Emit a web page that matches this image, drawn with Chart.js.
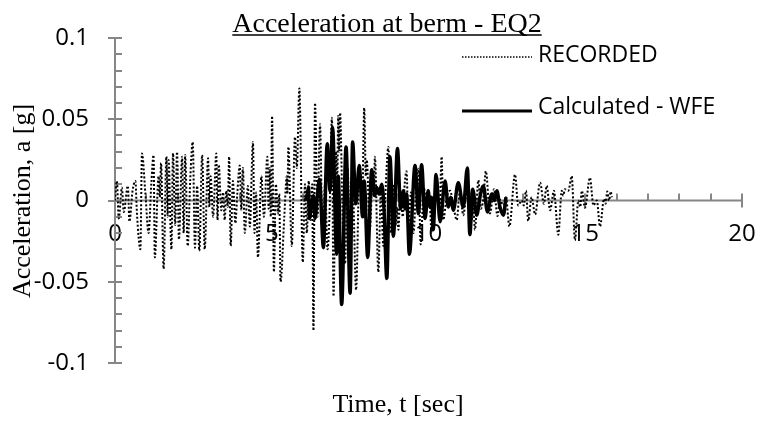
<!DOCTYPE html>
<html>
<head>
<meta charset="utf-8">
<script src="https://cdn.jsdelivr.net/npm/chart.js@4.4.0/dist/chart.umd.min.js"></script>
<style>
  html, body { margin: 0; padding: 0; background: #fff; }
  #c { display: block; }
</style>
</head>
<body>
<canvas id="c" width="759" height="421"></canvas>
<script>
// values (peaks of each trace)
const recT = [0.00, 0.06, 0.12, 0.22, 0.28, 0.41, 0.46, 0.56, 0.65, 0.70, 0.81, 0.86, 0.97, 1.07, 1.16, 1.23, 1.27, 1.39, 1.43, 1.47,
  1.55, 1.64, 1.68, 1.71, 1.80, 1.85, 1.92, 1.98, 2.04, 2.14, 2.19, 2.24, 2.32, 2.40, 2.48, 2.55, 2.62, 2.69, 2.78, 2.86,
  2.97, 3.01, 3.05, 3.13, 3.23, 3.27, 3.31, 3.39, 3.45, 3.50, 3.55, 3.60, 3.64, 3.69, 3.76, 3.84, 3.90, 3.98, 4.03, 4.08,
  4.14, 4.24, 4.30, 4.40, 4.45, 4.50, 4.56, 4.67, 4.75, 4.86, 4.90, 4.93, 4.97, 5.01, 5.07, 5.13, 5.20, 5.24, 5.28, 5.40,
  5.48, 5.50, 5.53, 5.64, 5.74, 5.80, 5.88, 5.99, 6.06, 6.12, 6.18, 6.24, 6.29, 6.33, 6.38, 6.46, 6.54, 6.62, 6.70, 6.78,
  6.84, 6.92, 6.97, 7.05, 7.09, 7.12, 7.15, 7.18, 7.26, 7.34, 7.42, 7.50, 7.58, 7.69, 7.80, 7.88, 7.95, 8.00, 8.03, 8.13,
  8.21, 8.25, 8.29, 8.40, 8.48, 8.56, 8.64, 8.72, 8.80, 8.88, 8.96, 9.00, 9.04, 9.10, 9.18, 9.24, 9.30, 9.36, 9.44, 9.52,
  9.60, 9.68, 9.75, 9.85, 9.94, 10.02, 10.10, 10.18, 10.26, 10.35, 10.42, 10.47, 10.58, 10.69, 10.80, 10.90, 11.00, 11.11, 11.20, 11.27,
  11.38, 11.43, 11.48, 11.59, 11.67, 11.75, 11.83, 11.96, 12.09, 12.20, 12.28, 12.39, 12.47, 12.58, 12.76, 12.86, 12.97, 13.04, 13.11, 13.18,
  13.29, 13.40, 13.56, 13.68, 13.77, 13.88, 14.00, 14.14, 14.25, 14.30, 14.35, 14.46, 14.57, 14.67, 14.78, 14.84, 14.89, 14.99, 15.15, 15.26,
  15.37, 15.47, 15.60, 15.65, 15.70, 15.76, 15.81, 15.85];
const recA = [0.000, 0.012, -0.011, 0.008, -0.007, 0.009, -0.013, 0.006, 0.012, -0.008, -0.030, 0.029, 0.004, -0.020, 0.011, 0.028, -0.035, 0.015, 0.002, 0.023,
  -0.042, 0.027, -0.010, 0.025, -0.030, 0.029, -0.015, 0.030, -0.024, 0.027, -0.020, 0.028, -0.028, 0.013, 0.036, -0.029, 0.009, -0.031, 0.028, -0.030,
  0.026, -0.004, 0.015, -0.010, 0.029, -0.012, 0.022, -0.006, 0.005, -0.012, 0.006, -0.004, 0.027, -0.028, 0.012, -0.014, 0.004, 0.0215, -0.006, 0.020,
  -0.020, 0.009, -0.016, 0.036, -0.020, 0.005, -0.035, 0.015, -0.010, 0.027, -0.005, 0.020, -0.010, 0.052, -0.044, 0.010, -0.008, 0.004, -0.050, -0.010,
  0.015, 0.004, 0.033, -0.028, 0.039, 0.020, 0.069, -0.038, 0.010, -0.020, 0.012, -0.012, 0.010, -0.080, 0.060, -0.010, 0.047, -0.025, 0.010, -0.030,
  -0.010, 0.051, -0.059, 0.030, 0.010, 0.052, 0.030, 0.054, -0.010, -0.039, 0.020, -0.030, 0.010, -0.055, 0.020, -0.010, 0.057, 0.015, 0.025, -0.018,
  0.010, 0.002, 0.027, -0.044, 0.005, -0.028, 0.010, 0.033, -0.020, 0.010, -0.015, -0.004, -0.018, 0.005, -0.010, 0.010, 0.018, -0.018, 0.005, -0.020,
  0.006, 0.0195, -0.027, 0.008, -0.005, 0.004, -0.020, 0.000, 0.005, -0.006, 0.027, -0.012, 0.002, 0.006, -0.004, -0.012, 0.0055, -0.009, 0.003, 0.010,
  -0.012, -0.002, -0.018, 0.0125, -0.005, 0.001, 0.018, -0.008, 0.007, -0.0095, 0.0005, -0.003, 0.002, -0.016, 0.016, -0.003, 0.000, -0.003, 0.006, -0.0125,
  0.002, -0.0086, 0.011, -0.002, 0.009, -0.006, 0.006, -0.021, 0.006, 0.003, 0.007, 0.006, 0.015, -0.0245, 0.000, -0.004, 0.006, -0.0045, 0.014, -0.003,
  0.000, -0.016, 0.001, -0.002, 0.0055, 0.000, 0.0055, 0.002];

const calT = [6.06, 6.13, 6.17, 6.20, 6.27, 6.33, 6.38, 6.45, 6.52, 6.65, 6.77, 6.86, 6.94, 7.07, 7.12, 7.23, 7.37, 7.50, 7.58, 7.68,
  7.79, 7.90, 7.95, 8.06, 8.19, 8.29, 8.35, 8.42, 8.51, 8.58, 8.67, 8.77, 8.88, 9.01, 9.11, 9.20, 9.25, 9.30, 9.39, 9.57,
  9.68, 9.78, 9.89, 9.99, 10.05, 10.10, 10.15, 10.24, 10.37, 10.53, 10.63, 10.71, 10.79, 10.95, 11.11, 11.24, 11.32, 11.41, 11.54, 11.64,
  11.75, 11.88, 12.02, 12.10, 12.18, 12.28, 12.39, 12.47];
const calA = [0.000, 0.003, 0.008, -0.011, -0.002, 0.003, -0.011, 0.002, 0.013, -0.029, 0.035, 0.006, 0.045, -0.033, 0.015, -0.064, 0.033, -0.057, 0.036, -0.002,
  0.0215, -0.010, 0.012, -0.035, 0.019, 0.003, 0.008, 0.004, 0.010, -0.005, -0.048, 0.027, -0.022, 0.032, -0.005, 0.006, -0.005, 0.004, -0.033, 0.0215,
  -0.008, 0.022, -0.011, 0.006, -0.004, 0.002, -0.018, 0.016, -0.013, 0.012, -0.004, 0.002, -0.006, 0.011, -0.004, 0.020, -0.021, 0.007, -0.009, 0.002,
  0.009, -0.007, 0.004, 0.000, 0.006, -0.004, -0.009, 0.002];

const xTicks = [0, 5, 10, 15, 20];
const yTicks = [-0.1, -0.05, 0, 0.05, 0.1];
const seriesNames = ["RECORDED", "Calculated - WFE"];

const AXIS = "#868686";
const SANS = "'Open Sans', sans-serif";
const SERIF = "'Liberation Serif', 'Times New Roman', serif";
const DOTS = [2, 2];

function pairs(xs, ys) {
  return xs.map((x, i) => ({ x: x, y: ys[i] }));
}

// drop the label overhang chart.js adds, so the plot box is set by layout.padding alone
function noOverhang(s) {
  s.paddingLeft = 0;
  s.paddingRight = 0;
  s.paddingTop = 0;
  s.paddingBottom = 0;
}

const decor = {
  id: "decor",
  beforeDatasetsDraw(chart) {
    const ctx = chart.ctx;
    const x = chart.scales.x, y = chart.scales.y;
    const x0 = x.getPixelForValue(0), y0 = y.getPixelForValue(0);
    ctx.save();
    ctx.strokeStyle = AXIS;
    ctx.lineWidth = 2;
    ctx.beginPath();
    // y axis minor / major ticks
    for (let v = -10; v <= 10; v++) {
      const py = Math.round(y.getPixelForValue(v / 100));
      const major = v % 5 === 0;
      ctx.moveTo(major ? x0 - 7 : x0, py);
      ctx.lineTo(x0 + 7, py);
    }
    // x axis line at y = 0
    ctx.moveTo(x.getPixelForValue(0), y0);
    ctx.lineTo(x.getPixelForValue(20), y0);
    for (let t = 0; t <= 20; t++) {
      const px = Math.round(x.getPixelForValue(t));
      const major = t % 5 === 0;
      ctx.moveTo(px, y0 - 7);
      ctx.lineTo(px, major ? y0 + 7 : y0);
    }
    ctx.stroke();
    ctx.restore();
  },
  afterDraw(chart) {
    const ctx = chart.ctx;
    ctx.save();
    ctx.fillStyle = "#000";
    ctx.strokeStyle = "#000";

    // title, underlined
    ctx.font = "28px " + SERIF;
    ctx.textAlign = "center";
    ctx.textBaseline = "alphabetic";
    const title = "Acceleration at berm - EQ2";
    const tw = ctx.measureText(title).width;
    ctx.fillText(title, 387, 32);
    ctx.lineWidth = 1.5;
    ctx.beginPath();
    ctx.moveTo(387 - tw / 2, 35);
    ctx.lineTo(387 + tw / 2, 35);
    ctx.stroke();

    // axis titles
    ctx.font = "26px " + SERIF;
    ctx.fillText("Time, t [sec]", 398, 412);
    ctx.save();
    ctx.translate(23, 201);
    ctx.rotate(-Math.PI / 2);
    ctx.textBaseline = "middle";
    ctx.fillText("Acceleration, a [g]", 0, 0);
    ctx.restore();

    // legend
    ctx.font = "23px " + SANS;
    ctx.textAlign = "left";
    ctx.textBaseline = "middle";
    ctx.lineWidth = 1.6;
    ctx.setLineDash([1.5, 1.5]);
    ctx.beginPath();
    ctx.moveTo(462, 57);
    ctx.lineTo(532, 57);
    ctx.stroke();
    ctx.setLineDash([]);
    ctx.lineWidth = 3;
    ctx.beginPath();
    ctx.moveTo(462, 111);
    ctx.lineTo(532, 111);
    ctx.stroke();
    ctx.fillText(seriesNames[0], 538, 55);
    ctx.fillText(seriesNames[1], 538, 107);
    ctx.restore();
  }
};

new Chart(document.getElementById("c"), {
  type: "line",
  data: {
    datasets: [
      {
        label: seriesNames[1],
        data: pairs(calT, calA),
        borderColor: "#000",
        borderWidth: 3.5,
        pointRadius: 0,
        cubicInterpolationMode: "monotone",
        fill: false
      },
      {
        label: seriesNames[0],
        data: pairs(recT, recA),
        borderColor: "#000",
        borderWidth: 2,
        borderDash: DOTS,
        pointRadius: 0,
        cubicInterpolationMode: "monotone",
        fill: false
      }
    ]
  },
  options: {
    responsive: false,
    animation: false,
    devicePixelRatio: 1,
    layout: { padding: { top: 38, right: 17, bottom: 58, left: 0 } },
    plugins: { legend: { display: false }, tooltip: { enabled: false }, title: { display: false } },
    scales: {
      x: {
        type: "linear",
        min: 0,
        max: 20,
        position: { y: 0 },
        afterBuildTicks: s => { s.ticks = xTicks.map(v => ({ value: v })); },
        afterFit: noOverhang,
        ticks: { font: { family: SANS, size: 24 }, color: "#000", padding: 19, maxRotation: 0 },
        grid: { display: false, drawTicks: false },
        border: { display: false }
      },
      y: {
        type: "linear",
        min: -0.1,
        max: 0.1,
        afterFit: s => { s.width = 115; noOverhang(s); },
        afterBuildTicks: s => { s.ticks = yTicks.map(v => ({ value: v })); },
        ticks: {
          font: { family: SANS, size: 24 },
          color: "#000",
          padding: 26,
          callback: v => String(Math.round(v * 100) / 100)
        },
        grid: { drawOnChartArea: false, drawTicks: false },
        border: { display: true, color: AXIS, width: 2 }
      }
    }
  },
  plugins: [decor]
});
</script>
</body>
</html>
